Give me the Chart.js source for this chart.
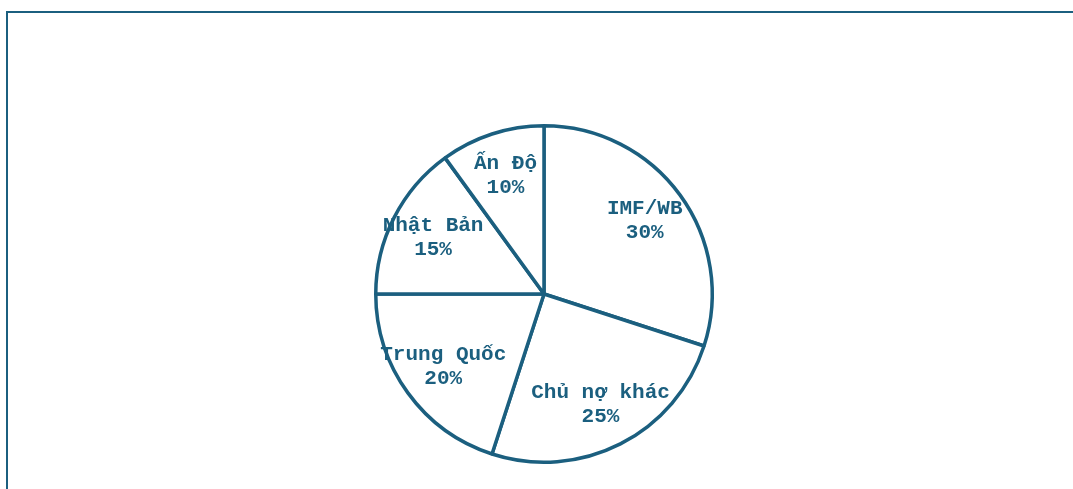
<!DOCTYPE html>
<html>
<head>
<meta charset="utf-8">
<script src="https://cdn.jsdelivr.net/npm/chart.js@4"></script>
<style>
  html, body { margin: 0; padding: 0; background: #fff; overflow: hidden; }
  #wrap { position: relative; width: 1073px; height: 489px; }
  #frame {
    position: absolute; left: 6px; top: 11px; width: 1200px; height: 600px;
    border-top: 2px solid #1b5f7f; border-left: 2px solid #1b5f7f;
  }
  canvas { position: absolute; left: 0; top: 0; }
</style>
</head>
<body>
<div id="wrap">
  <div id="frame"></div>
  <canvas id="debtChart" width="1073" height="489"></canvas>
</div>
<script>
// DATA
const creditors = ["IMF/WB", "Chủ nợ khác", "Trung Quốc", "Nhật Bản", "Ấn Độ"];
const shares = [30, 25, 20, 15, 10];

const lineColor = "#1b5f7f";

// LABELS INSIDE SLICES
const sliceLabels = {
    id: "sliceLabels",
    afterDatasetsDraw(chart) {
        const ctx = chart.ctx;
        const arcs = chart.getDatasetMeta(0).data;
        ctx.save();
        ctx.fillStyle = lineColor;
        ctx.font = "bold 21px 'Liberation Mono', 'Courier New', monospace";
        ctx.textAlign = "center";
        ctx.textBaseline = "middle";
        arcs.forEach((arc, i) => {
            const p = arc.getProps(["x", "y", "startAngle", "endAngle", "outerRadius"], true);
            const mid = (p.startAngle + p.endAngle) / 2;
            const r = p.outerRadius * 0.74;
            const cx = p.x + Math.cos(mid) * r;
            const cy = p.y + Math.sin(mid) * r;
            ctx.fillText(creditors[i], cx, cy - 12);
            ctx.fillText(shares[i] + "%", cx, cy + 12);
        });
        ctx.restore();
    }
};

new Chart(document.getElementById("debtChart"), {
    type: "pie",
    data: {
        labels: creditors,
        datasets: [{
            data: shares,
            backgroundColor: "#ffffff",
            borderColor: lineColor,
            borderWidth: 3.5
        }]
    },
    options: {
        responsive: false,
        animation: false,
        layout: { padding: { left: 15, right: 0, top: 124, bottom: 25 } },
        plugins: { legend: { display: false }, tooltip: { enabled: false } }
    },
    plugins: [sliceLabels]
});
</script>
</body>
</html>
